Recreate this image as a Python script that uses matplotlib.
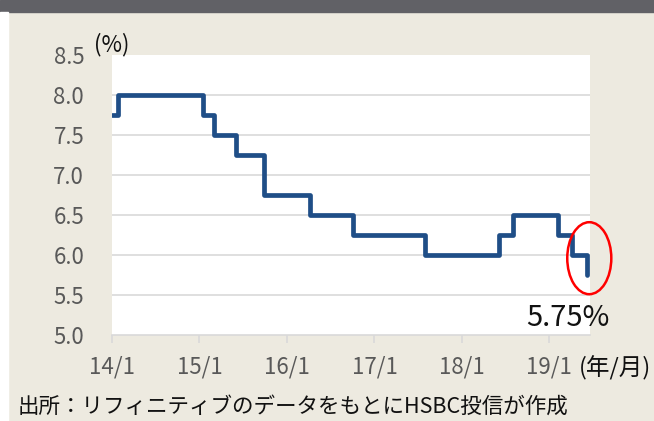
import matplotlib
matplotlib.use("Agg")
import matplotlib.pyplot as plt
import matplotlib.dates as mdates
import matplotlib.patches as mpatches
import pandas as pd

plt.rcParams['font.family'] = ['Noto Sans CJK JP', 'DejaVu Sans']

# policy rate change dates and the rate from that date on (%)
change_dates = ["2014-01-01", "2014-01-28", "2015-01-15", "2015-03-04", "2015-06-02",
                "2015-09-29", "2016-04-05", "2016-10-04", "2017-08-02", "2018-06-06",
                "2018-08-01", "2019-02-07", "2019-04-04", "2019-06-06"]
rates = [7.75, 8.00, 7.75, 7.50, 7.25, 6.75, 6.50, 6.25, 6.00, 6.25, 6.50, 6.25, 6.00, 5.75]

tick_dates = ["2014-01-01", "2015-01-01", "2016-01-01", "2017-01-01", "2018-01-01", "2019-01-01"]
tick_labels = ["14/1", "15/1", "16/1", "17/1", "18/1", "19/1"]
y_ticks = [5.0, 5.5, 6.0, 6.5, 7.0, 7.5, 8.0, 8.5]

last_label = "5.75%"
source = "出所：リフィニティブのデータをもとにHSBC投信が作成"

bg = '#EDEAE0'
W, H = 654, 421
fig = plt.figure(figsize=(W / 100, H / 100), dpi=100, facecolor=bg)

# top dark band and thin white strip on the left
fig.patches.append(mpatches.Rectangle((0, 1 - 12 / H), 1, 12 / H, transform=fig.transFigure,
                                      color='#616166', zorder=0))
fig.patches.append(mpatches.Rectangle((0, 0), 8 / W, 1 - 12 / H, transform=fig.transFigure,
                                      color='white', zorder=0))

ax = fig.add_axes([112 / W, (H - 335) / H, 478 / W, 280 / H])
ax.set_facecolor('white')

x = pd.to_datetime(change_dates)
ax.plot(x, rates, drawstyle='steps-post', color='#1F4E87', linewidth=3.4,
        solid_capstyle='round', solid_joinstyle='round', zorder=3)

ax.set_ylim(5.0, 8.5)
ax.set_yticks(y_ticks)
ax.set_yticklabels([f"{v:.1f}" for v in y_ticks])
ax.set_xlim(pd.Timestamp("2014-01-01"), pd.Timestamp("2019-06-20"))
ax.set_xticks(pd.to_datetime(tick_dates))
ax.set_xticklabels(tick_labels)

for v in y_ticks[1:-1]:
    ax.axhline(v, color='#D9D9D9', linewidth=1.2, zorder=1)

for s in ['top', 'right', 'left']:
    ax.spines[s].set_visible(False)
ax.spines['bottom'].set_color('#D9D9D9')
ax.spines['bottom'].set_linewidth(1.2)

ax.tick_params(axis='y', length=0, pad=20, labelsize=16, labelcolor='#595959')
ax.tick_params(axis='x', length=6, width=1.2, color='#D9D9D9', direction='out',
               pad=9, labelsize=16, labelcolor='#595959')

# highlight of the latest value
cx = mdates.date2num(pd.Timestamp("2019-06-17"))
ax.add_patch(mpatches.Ellipse((cx, 5.96), 184, 0.9, fill=False, edgecolor='red',
                              linewidth=1.8, clip_on=False, zorder=4))
ax.text(mdates.date2num(pd.Timestamp("2019-03-20")), 5.21, last_label, ha='center',
        va='center', fontsize=21, color='#111111')

fig.text(112 / W, 1 - 45 / H, "(%)", ha='center', va='center', fontsize=16, color='#111111')
fig.text(579 / W, 1 - 368 / H, "(年/月)", ha='left', va='center', fontsize=17, color='#111111')
fig.text(18 / W, 1 - 407 / H, source, ha='left', va='center', fontsize=15.5, color='#111111')

fig.savefig("out.png", dpi=100, facecolor=bg)
